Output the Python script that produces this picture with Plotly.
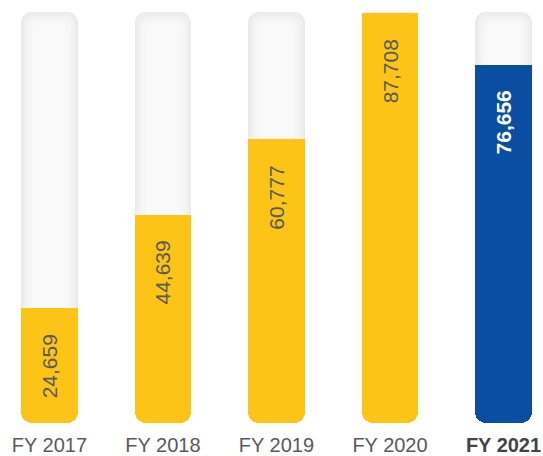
import plotly.graph_objects as go

categories = ["FY 2017", "FY 2018", "FY 2019", "FY 2020", "FY 2021"]
values = [24659, 44639, 60777, 87708, 76656]
track_max = 88000
highlight = "FY 2021"

YELLOW = "#FCC416"
BLUE = "#0A4DA1"

x = list(range(len(categories)))
n = len(x)

fig = go.Figure()

# Track layers (soft inner shading): (width, colour, radius, inset in data units)
track_layers = [
    (0.50, "#EAEAEA", 11, 0),
    (0.47, "#EEEEEE", 10, 300),
    (0.43, "#F2F2F2", 9, 800),
    (0.38, "#F6F6F6", 8, 1500),
    (0.30, "#F9F9F9", 6, 2400),
]
for w, col, r, inset in track_layers:
    fig.add_trace(go.Bar(
        x=x, y=[track_max - 2 * inset] * n, base=[inset] * n,
        width=w, marker=dict(color=col, cornerradius=r, line_width=0),
        hoverinfo="skip", showlegend=False))

colors = [BLUE if c == highlight else YELLOW for c in categories]
fig.add_trace(go.Bar(
    x=x, y=values, base=[0] * n,
    width=0.5, marker=dict(color=colors, cornerradius=11, line_width=0),
    hoverinfo="skip", showlegend=False))
# square off the top end of each value bar
cap = 3000
fig.add_trace(go.Bar(
    x=x, y=[cap] * n, base=[v - cap for v in values],
    width=0.5, marker=dict(color=colors, cornerradius=0, line_width=0),
    hoverinfo="skip", showlegend=False))

for i, (c, v) in enumerate(zip(categories, values)):
    hi = c == highlight
    fig.add_annotation(
        x=i, y=v, xref="x", yref="y",
        text=f"<b>{v:,}</b>" if hi else f"{v:,}",
        textangle=-90, showarrow=False,
        xanchor="center", yanchor="top", yshift=-24,
        font=dict(family="Liberation Sans, Arial", size=21,
                  color="#FFFFFF" if hi else "#5A5A5A"))

ticktext = [f"<b><span style='color:#444444'>{c}</span></b>" if c == highlight else c
            for c in categories]

fig.update_layout(
    width=543, height=456,
    margin=dict(l=0, r=0, t=12, b=33),
    barmode="overlay",
    paper_bgcolor="white", plot_bgcolor="white",
    font=dict(family="Liberation Sans, Arial", size=20, color="#5F5F5F"),
    xaxis=dict(range=[-0.436, 4.348], tickvals=x, ticktext=ticktext,
               showgrid=False, zeroline=False, showline=False, ticks="",
               ticklabelstandoff=8,
               tickfont=dict(size=20, color="#5A5A5A"), fixedrange=True),
    yaxis=dict(range=[0, track_max], visible=False, showgrid=False,
               zeroline=False, fixedrange=True),
    bargap=0,
)

fig.write_html("out.html", config={"displayModeBar": False},
               post_script="document.body.style.margin='0';")
